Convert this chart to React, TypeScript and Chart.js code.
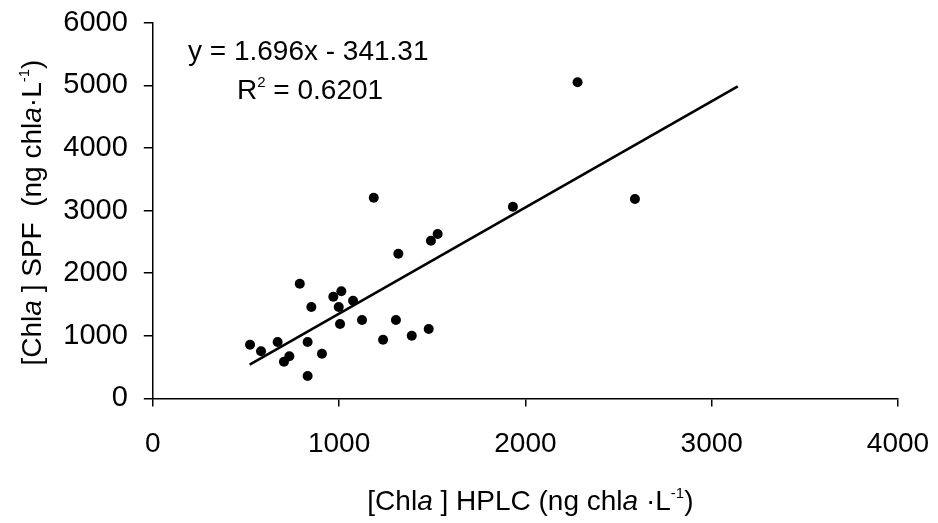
import React, { useEffect, useRef } from "react";
import { Chart, registerables } from "chart.js";

Chart.register(...registerables);

// ---- data ----
const hplc = [522, 581, 670, 704, 733, 789, 831, 831, 851, 908, 969, 998, 1005, 1012, 1075, 1123, 1186, 1236, 1305, 1318, 1390, 1481, 1493, 1529, 1933, 2280, 2588];
const spf = [858, 752, 901, 586, 672, 1832, 901, 358, 1460, 714, 1624, 1460, 1188, 1710, 1560, 1252, 3205, 937, 1252, 2311, 1001, 1108, 2518, 2625, 3061, 5048, 3184];
const trendX = [520, 3140];
const trendY = [541, 4984];
const xTicks = [0, 1000, 2000, 3000, 4000];
const yTicks = [0, 1000, 2000, 3000, 4000, 5000, 6000];
const equationText = "y = 1.696x - 341.31";
const r2Label = "R";
const r2Sup = "2";
const r2Value = " = 0.6201";

type Seg = { t: string; it?: boolean; sup?: boolean };
const xTitle: Seg[] = [
  { t: "[Chl" }, { t: "a", it: true }, { t: " ] HPLC (ng chl" }, { t: "a", it: true },
  { t: " \u00B7L" }, { t: "-1", sup: true }, { t: ")" },
];
const yTitle: Seg[] = [
  { t: "[Chl" }, { t: "a", it: true }, { t: " ] SPF  (ng chl" }, { t: "a", it: true },
  { t: "\u00B7L" }, { t: "-1", sup: true }, { t: ")" },
];

const FONT = '"Liberation Sans", Arial, Helvetica, sans-serif';
const SIZE = 28;
const SUP = 15;

function segFont(s: Seg) {
  return `${s.it ? "italic " : ""}${s.sup ? SUP : SIZE}px ${FONT}`;
}
function measureSegs(ctx: CanvasRenderingContext2D, segs: Seg[]) {
  let w = 0;
  for (const s of segs) {
    ctx.font = segFont(s);
    w += ctx.measureText(s.t).width;
  }
  return w;
}
function drawSegs(ctx: CanvasRenderingContext2D, segs: Seg[], x: number, y: number) {
  let cx = x;
  for (const s of segs) {
    ctx.font = segFont(s);
    ctx.fillText(s.t, cx, s.sup ? y - 12 : y);
    cx += ctx.measureText(s.t).width;
  }
}

const textPlugin = {
  id: "richText",
  afterDraw(chart: any) {
    const ctx: CanvasRenderingContext2D = chart.ctx;
    const area = chart.chartArea;
    ctx.save();
    ctx.fillStyle = "#000";
    ctx.textBaseline = "alphabetic";
    ctx.textAlign = "left";

    // equation
    ctx.font = `${SIZE}px ${FONT}`;
    ctx.fillText(equationText, 188, 60);
    // R^2
    const r2: Seg[] = [{ t: r2Label }, { t: r2Sup, sup: true }, { t: r2Value }];
    drawSegs(ctx, r2, 237, 99);

    // x title
    const wx = measureSegs(ctx, xTitle);
    const cxMid = (area.left + area.right) / 2 + 5;
    drawSegs(ctx, xTitle, cxMid - wx / 2, 510);

    // y title
    const wy = measureSegs(ctx, yTitle);
    ctx.translate(41, (area.top + area.bottom) / 2 + 2);
    ctx.rotate(-Math.PI / 2);
    drawSegs(ctx, yTitle, -wy / 2, 0);
    ctx.restore();
  },
};

export default function App() {
  const ref = useRef<HTMLCanvasElement | null>(null);

  useEffect(() => {
    if (!ref.current) return;
    const points = hplc.map((x, i) => ({ x, y: spf[i] }));
    const trend = trendX.map((x, i) => ({ x, y: trendY[i] }));
    const chart = new Chart(ref.current, {
      type: "scatter",
      data: {
        datasets: [
          {
            label: "trend",
            data: trend,
            showLine: true,
            borderColor: "#000",
            borderWidth: 2.6,
            pointRadius: 0,
            fill: false,
          } as any,
          {
            label: "samples",
            data: points,
            backgroundColor: "#000",
            borderColor: "#000",
            borderWidth: 0,
            pointRadius: 5,
          },
        ],
      },
      options: {
        responsive: false,
        animation: false,
        devicePixelRatio: 1,
        layout: { padding: { top: 22.7, right: 40, left: 0, bottom: 0 } },
        plugins: { legend: { display: false }, tooltip: { enabled: false } },
        scales: {
          x: {
            type: "linear",
            min: 0,
            max: 4000,
            afterBuildTicks: (s: any) => {
              s.ticks = xTicks.map((v) => ({ value: v }));
            },
            afterFit: (s: any) => {
              s.height = 124.6;
              s.paddingLeft = 0;
              s.paddingRight = 0;
            },
            ticks: {
              color: "#000",
              font: { family: FONT, size: SIZE },
              padding: 21,
              maxRotation: 0,
              callback: (v: any) => String(v),
            },
            grid: {
              display: true,
              drawOnChartArea: false,
              drawTicks: true,
              tickLength: 8,
              color: "#000",
              lineWidth: 1.5,
            },
            border: { display: true, color: "#000", width: 1.5 },
          },
          y: {
            type: "linear",
            min: 0,
            max: 6000,
            afterBuildTicks: (s: any) => {
              s.ticks = yTicks.map((v) => ({ value: v }));
            },
            afterFit: (s: any) => {
              s.width = 152.8;
              s.paddingTop = 0;
              s.paddingBottom = 0;
            },
            ticks: {
              color: "#000",
              font: { family: FONT, size: 29 },
              padding: 16,
              callback: (v: any) => String(v),
            },
            grid: {
              display: true,
              drawOnChartArea: false,
              drawTicks: true,
              tickLength: 9,
              color: "#000",
              lineWidth: 1.5,
            },
            border: { display: true, color: "#000", width: 1.5 },
          },
        },
      },
      plugins: [textPlugin],
    });
    return () => chart.destroy();
  }, []);

  return (
    <div style={{ position: "absolute", left: 0, top: 0, width: 938, height: 523, background: "#fff" }}>
      <canvas ref={ref} width={938} height={523} />
    </div>
  );
}
